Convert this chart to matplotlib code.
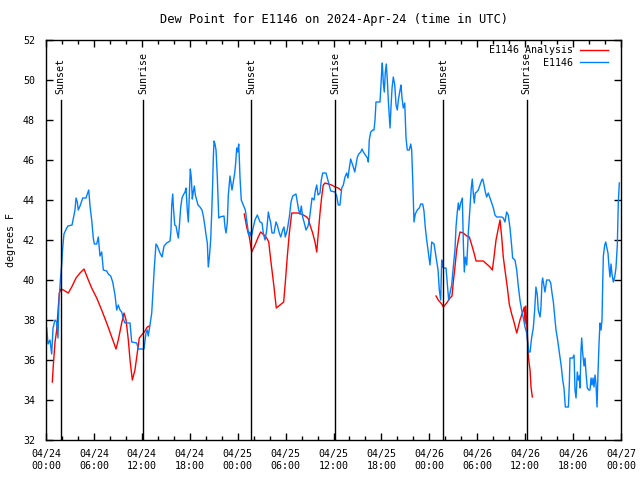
import numpy as np
import matplotlib
matplotlib.use("Agg")
import matplotlib.pyplot as plt
from matplotlib.ticker import MultipleLocator

# time axis is hours since 2024-04-24 00:00 UTC

# E1146 observed dew point
obs_hours = [
    0.09, 0.25, 0.5, 0.71, 0.88, 1.13, 1.34, 1.5, 1.63, 1.84, 1.97, 2.09, 2.25, 2.59, 2.75,
    3.26, 3.38, 3.63, 3.76, 3.92, 4.04, 4.26, 4.6, 5.01, 5.17, 5.35, 5.51, 5.72, 5.92, 6.05,
    6.35, 6.55, 6.76, 6.97, 7.18, 7.6, 7.8, 8.1, 8.35, 8.64, 8.85, 9.05, 9.27, 9.48, 9.68,
    9.89, 10.52, 10.73, 11.36, 11.56, 12.27, 12.52, 12.68, 12.81, 13.02, 13.24, 13.44, 13.56,
    13.77, 13.94, 14.27, 14.53, 14.78, 15.11, 15.53, 15.65, 15.74, 15.87, 15.94, 16.12, 16.28,
    16.44, 16.57, 16.69, 16.87, 17.03, 17.19, 17.41, 17.53, 17.69, 17.82, 17.94, 18.07, 18.2,
    18.32, 18.44, 18.57, 18.7, 18.87, 19.03, 19.28, 19.53, 19.7, 19.91, 20.04, 20.2, 20.32,
    20.45, 20.62, 20.75, 20.87, 20.95, 21.04, 21.16, 21.29, 21.45, 21.63, 21.79, 22.29, 22.41,
    22.54, 22.7, 22.83, 23.04, 23.17, 23.29, 23.45, 23.63, 23.75, 23.88, 24.0, 24.13, 24.2,
    24.29, 24.45, 24.71, 24.96, 25.13, 25.38, 25.54, 25.71, 25.96, 26.17, 26.46, 26.8, 27.05,
    27.21, 27.42, 27.64, 27.84, 27.96, 28.14, 28.3, 28.55, 28.8, 28.96, 29.21, 29.39, 29.64,
    29.8, 29.96, 30.21, 30.47, 30.68, 30.89, 31.3, 31.47, 31.64, 31.81, 31.97, 32.14, 32.31,
    32.56, 32.81, 32.97, 33.15, 33.31, 33.56, 33.72, 33.9, 34.06, 34.31, 34.47, 34.65, 35.06,
    35.23, 35.48, 35.65, 36.19, 36.4, 36.6, 36.81, 37.03, 37.23, 37.44, 37.65, 37.81, 37.98,
    38.15, 38.32, 38.48, 38.66, 38.82, 38.99, 39.16, 39.41, 39.57, 39.74, 39.99, 40.24, 40.36,
    40.48, 40.66, 40.91, 41.07, 41.2, 41.32, 41.82, 41.91, 42.03, 42.11, 42.24, 42.36, 42.49,
    42.61, 42.74, 42.86, 42.99, 43.08, 43.2, 43.33, 43.49, 43.67, 43.83, 43.99, 44.12, 44.33,
    44.45, 44.58, 44.74, 44.92, 45.08, 45.24, 45.49, 45.67, 45.79, 45.92, 46.08, 46.24, 46.49,
    46.74, 46.92, 47.17, 47.33, 47.5, 47.67, 47.83, 48.08, 48.3, 48.59, 48.84, 49.09, 49.25,
    49.42, 49.55, 49.67, 49.84, 50.09, 50.25, 50.42, 50.59, 50.8, 51.0, 51.21, 51.34, 51.5,
    51.63, 51.75, 51.93, 52.13, 52.26, 52.38, 52.51, 52.68, 52.88, 53.09, 53.25, 53.38, 53.5,
    53.63, 53.75, 53.93, 54.13, 54.35, 54.56, 54.68, 54.85, 55.01, 55.18, 55.38, 55.6, 55.81,
    56.02, 56.22, 56.43, 57.06, 57.26, 57.47, 57.68, 57.88, 58.1, 58.31, 58.43, 58.72, 58.94,
    59.14, 59.35, 59.56, 59.77, 59.98, 60.19, 60.32, 60.44, 60.61, 60.82, 61.02, 61.19, 61.35,
    61.52, 61.64, 61.86, 61.98, 62.1, 62.19, 62.35, 62.48, 62.69, 63.02, 63.2, 63.36, 63.53,
    63.7, 63.86, 64.03, 64.2, 64.36, 64.53, 64.7, 64.86, 65.03, 65.41, 65.53, 65.61, 65.95,
    66.12, 66.24, 66.37, 66.53, 66.66, 66.78, 66.87, 66.99, 67.08, 67.2, 67.37, 67.49, 67.62,
    67.78, 67.96, 68.12, 68.25, 68.37, 68.5, 68.62, 68.75, 68.87, 69.0, 69.12, 69.25, 69.37,
    69.5, 69.62, 69.71, 69.79, 69.96, 70.09, 70.21, 70.37, 70.5, 70.62, 70.75, 70.87, 71.04,
    71.21, 71.37, 71.54, 71.66, 71.79,
]
obs_dewpt = [
    37.6, 36.8, 37.0, 36.3, 37.6, 38.0, 37.9, 37.1, 39.0, 40.2, 40.8, 41.6, 42.3, 42.6, 42.7,
    42.75, 43.0, 43.5, 44.1, 43.9, 43.5, 43.7, 44.1, 44.1, 44.3, 44.5, 43.7, 43.0, 42.1, 41.8,
    41.8, 42.15, 41.2, 41.4, 40.5, 40.45, 40.3, 40.2, 39.9, 39.25, 38.5, 38.75, 38.5, 38.4, 38.05,
    37.85, 37.85, 36.9, 36.85, 36.55, 36.55, 37.35, 37.5, 37.2, 37.75, 38.35, 39.75, 40.6,
    41.8, 41.7, 41.35, 41.15, 41.7, 41.85, 41.95, 42.5, 43.75, 44.3, 43.7, 42.75, 42.7,
    42.35, 42.1, 42.65, 43.65, 44.1, 44.25, 44.4, 44.6, 43.5, 42.9, 44.2, 45.55, 45.1,
    44.05, 44.4, 44.7, 44.25, 44.0, 43.75, 43.65, 43.5, 43.2, 42.65, 42.25, 41.85, 40.65,
    41.1, 42.0, 43.35, 44.85, 46.1, 46.95, 46.8, 46.5, 45.15, 43.1, 43.15, 43.2, 42.65,
    42.35, 42.85, 44.25, 45.2, 44.85, 44.5, 44.9, 45.35, 45.85, 46.6, 46.4, 46.8, 46.15,
    45.15, 44.0, 43.75, 43.5, 43.0, 42.25, 42.4, 42.15, 42.65, 43.0, 43.25, 42.9, 42.85,
    42.35, 42.0, 42.5, 43.4, 43.15, 42.85, 42.35, 42.35, 42.9, 42.75, 42.35, 42.15, 42.5,
    42.65, 42.15, 42.5, 43.15, 43.9, 44.2, 44.3, 43.9, 43.5, 43.3, 43.7, 43.15, 42.9,
    42.5, 42.7, 43.0, 43.6, 44.1, 44.0, 44.45, 44.75, 44.25, 44.35, 45.0, 45.35, 45.35,
    45.1, 44.7, 44.45, 44.4, 44.2, 43.75, 43.75, 44.6, 44.75, 45.15, 45.35, 45.1, 45.6,
    46.05, 45.85, 45.65, 45.4, 45.75, 46.15, 46.3, 46.4, 46.55, 46.4, 46.25, 46.1, 45.9,
    47.0, 47.4, 47.5, 47.5, 48.0, 48.9, 48.9, 49.5, 50.4, 50.85, 49.85, 49.4, 50.4,
    50.8, 50.0, 49.0, 48.15, 47.6, 48.65, 49.6, 50.15, 49.75, 48.75, 48.5, 49.0, 49.5,
    49.75, 49.1, 48.6, 48.85, 47.1, 46.5, 46.5, 46.8, 46.5, 45.0, 42.9, 43.3, 43.5,
    43.6, 43.8, 43.8, 43.45, 42.6, 42.0, 41.5, 40.75, 41.9, 41.8, 41.15, 40.5, 39.5,
    39.0, 41.0, 40.65, 40.6, 40.6, 39.85, 39.0, 39.35, 39.75, 40.65, 41.5, 42.65, 43.4,
    43.85, 43.5, 43.85, 44.1, 41.85, 40.4, 41.15, 40.75, 42.35, 43.65, 44.6, 45.05, 44.35,
    43.85, 44.35, 44.4, 44.5, 44.75, 45.0, 45.05, 44.75, 44.4, 44.15, 44.35, 44.1, 43.85,
    43.6, 43.25, 43.15, 43.15, 43.1, 42.9, 43.4, 43.25, 42.6, 41.7, 41.1, 41.0, 40.5,
    39.7, 39.0, 38.5, 38.1, 37.65, 37.35, 36.85, 36.4, 36.4, 37.15, 37.6, 38.5, 39.65,
    39.25, 38.5, 38.15, 38.65, 39.85, 40.1, 39.7, 39.4, 40.0, 40.0, 39.85, 39.35, 38.9,
    38.15, 37.5, 37.1, 36.6, 36.1, 35.65, 35.0, 34.6, 33.65, 33.65, 34.8, 36.1, 36.1,
    36.25, 34.5, 34.1, 35.4, 35.0, 35.2, 34.6, 36.5, 37.1, 36.35, 35.7, 36.1, 35.35,
    34.6, 34.5, 34.5, 35.1, 34.75, 35.1, 34.65, 35.25, 34.8, 33.65, 35.35, 36.85, 37.85,
    37.5, 38.0, 39.85, 41.2, 41.75, 41.9, 41.65, 41.35, 40.65, 40.15, 40.8, 40.3, 39.9,
    40.15, 40.6, 41.75, 43.85, 44.85,
]

# E1146 analysis (NaN = no analysis available)
ana_hours = [
    0.79, 0.91, 1.13, 1.34, 1.54, 1.67, 1.88, 2.17, 2.79, 3.22, 3.76, 4.26, 4.76, 5.3, 5.72,
    6.35, 6.97, 7.6, 8.23, 8.77, 9.05, 9.48, 9.77, 10.02, 10.31, 10.52, 10.81, 11.14, 11.36,
    11.68, 11.98, 12.4, 12.68, 12.94, 18.0,
    24.83, 25.13, 25.46, 25.76, 26.17, 26.58, 26.88, 27.3, 27.64, 27.89, 28.14, 28.34, 28.55,
    28.68, 28.84, 29.3, 29.76, 29.96, 30.21, 30.47, 30.77, 31.59, 32.22, 32.64, 32.85, 33.06,
    33.39, 33.68, 33.9, 34.1, 34.31, 34.52, 34.72, 34.94, 35.35, 35.77, 36.19, 36.6, 36.9, 42.0,
    48.84, 49.12, 49.55, 49.75, 50.17, 50.59, 50.84, 51.0, 51.21, 51.42, 51.63, 51.84, 52.26,
    52.68, 53.01, 53.31, 53.6, 53.85, 54.76, 55.18, 55.6, 55.89, 56.1, 56.35, 56.6, 56.85,
    57.06, 57.26, 57.47, 57.76, 58.01, 58.31, 58.6, 58.94, 59.14, 59.35, 59.69, 59.89, 59.98,
    60.07, 60.27, 60.4, 60.61, 60.73, 60.9,
]
ana_dewpt = [
    34.9, 35.7, 36.9, 37.5, 38.65, 39.35, 39.55, 39.5, 39.35, 39.65, 40.1, 40.35, 40.55, 40.0, 39.6,
    39.1, 38.5, 37.85, 37.15, 36.55, 37.0, 37.85, 38.35, 38.0, 37.0, 36.0, 35.0, 35.5, 36.15,
    37.1, 37.25, 37.45, 37.65, 37.7, np.nan,
    43.3, 42.65, 42.15, 41.4, 41.75, 42.15, 42.4, 42.25, 42.1, 41.9, 41.0, 40.35, 39.65,
    39.15, 38.6, 38.75, 38.9, 39.85, 41.15, 42.35, 43.35, 43.35, 43.25, 43.15, 43.05, 42.75,
    42.35, 41.9, 41.4, 42.35, 43.35, 44.15, 44.75, 44.85, 44.8, 44.75, 44.65, 44.6, 44.5, np.nan,
    39.2, 39.0, 38.8, 38.65, 38.85, 39.1, 39.2, 39.9, 40.65, 41.5, 42.0, 42.4, 42.35,
    42.2, 42.15, 41.75, 41.35, 40.95, 40.95, 40.8, 40.65, 40.5, 41.15, 42.0, 42.5, 43.0,
    42.15, 41.15, 40.5, 39.65, 38.8, 38.3, 37.9, 37.35, 37.65, 38.0, 38.4, 38.65, 37.8,
    38.7, 37.3, 36.15, 35.5, 34.65, 34.15,
]

sun_hours = [1.84, 12.17, 25.72, 36.23, 49.73, 60.2]
sun_labels = ["Sunset", "Sunrise", "Sunset", "Sunrise", "Sunset", "Sunrise"]

tick_hours = [0, 6, 12, 18, 24, 30, 36, 42, 48, 54, 60, 66, 72]
tick_labels = [
    "04/24\n00:00", "04/24\n06:00", "04/24\n12:00", "04/24\n18:00",
    "04/25\n00:00", "04/25\n06:00", "04/25\n12:00", "04/25\n18:00",
    "04/26\n00:00", "04/26\n06:00", "04/26\n12:00", "04/26\n18:00",
    "04/27\n00:00",
]

plt.rcParams["font.family"] = "DejaVu Sans Mono"
plt.rcParams["font.size"] = 7.2

fig = plt.figure(figsize=(6.4, 4.8), dpi=100)
ax = fig.add_axes([46 / 640, 40 / 480, 575 / 640, 400 / 480])

ax.plot(ana_hours, ana_dewpt, color="#ff0000", lw=1.0, label="E1146 Analysis")
ax.plot(obs_hours, obs_dewpt, color="#0080ff", lw=1.0, label="E1146")

for h, lab in zip(sun_hours, sun_labels):
    ax.plot([h, h], [32, 49], color="black", lw=1.0)
    ax.text(h, 49.3, lab, rotation=90, ha="center", va="bottom")

ax.set_xlim(0, 72)
ax.set_ylim(32, 52)
ax.set_xticks(tick_hours)
ax.set_xticklabels(tick_labels, linespacing=1.2)
ax.xaxis.set_minor_locator(MultipleLocator(2))
ax.yaxis.set_major_locator(MultipleLocator(2))

ax.tick_params(which="both", direction="in", top=True, right=True, width=1.0, color="black")
ax.tick_params(which="major", length=5)
ax.tick_params(which="minor", length=3)
ax.tick_params(axis="x", pad=6.5)
ax.tick_params(axis="y", pad=8)
for sp in ax.spines.values():
    sp.set_linewidth(1.0)

ax.set_title("Dew Point for E1146 on 2024-Apr-24 (time in UTC)", pad=12)
fig.text(11.5 / 640, 0.5, "degrees F", rotation=90, ha="center", va="center")

ax.legend(loc="upper right", bbox_to_anchor=(0.985, 0.997), frameon=False,
          markerfirst=False, handlelength=2.8, handletextpad=0.7,
          labelspacing=0.25, borderaxespad=0.0)

fig.savefig("out.png", dpi=100)
